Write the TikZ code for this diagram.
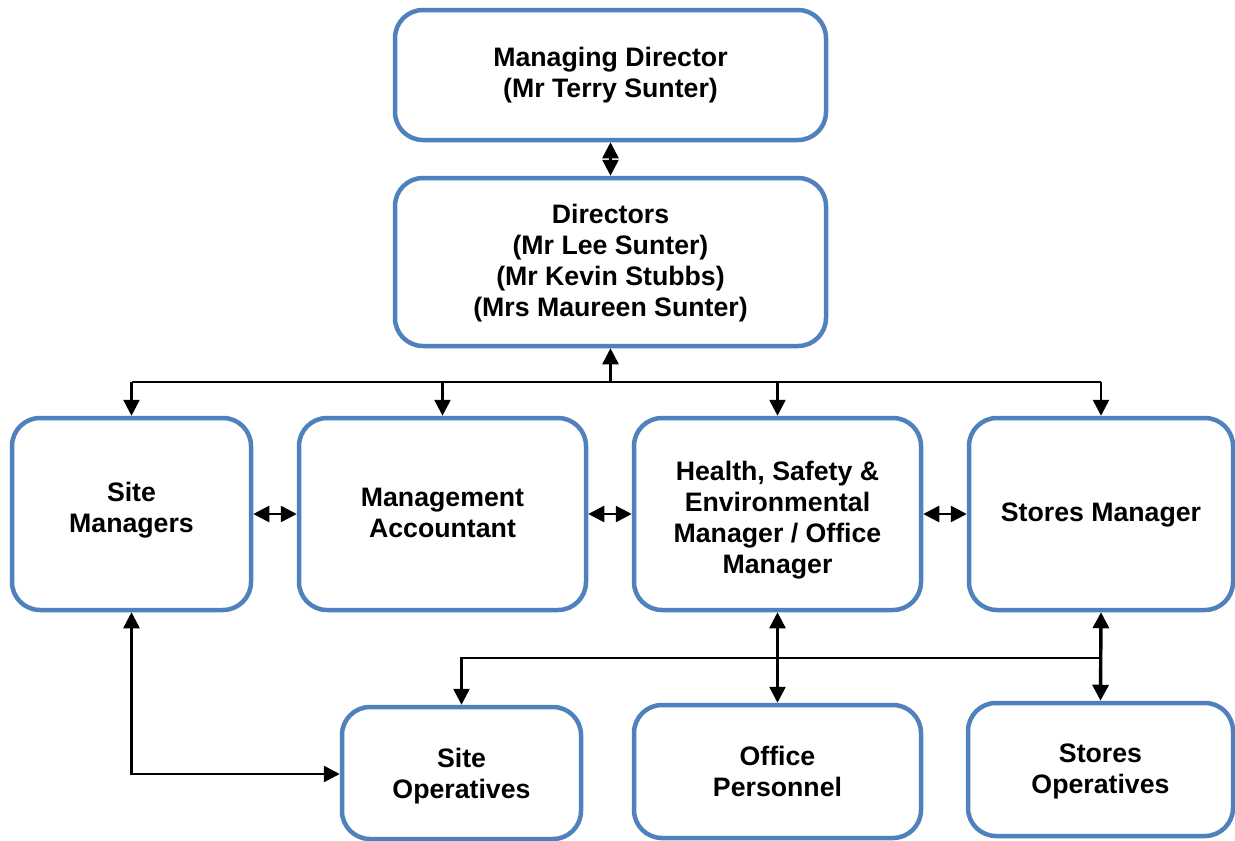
\documentclass[tikz,border=0pt]{standalone}
\usepackage{fontspec}
\setmainfont{Liberation Sans}
\usetikzlibrary{arrows.meta}
\definecolor{boxblue}{RGB}{79,129,189}
\begin{document}
\begin{tikzpicture}[x=1pt,y=-1pt,
  orgbox/.style={draw=boxblue, line width=4.5pt, rounded corners=28pt, fill=white,
    inner sep=0pt},
  boxtext/.style={inner sep=0pt, align=center, font=\fontsize{26.7}{31}\selectfont\bfseries},
  conn/.style={line width=2.6pt, black},
  tip/.tip={Triangle[length=16pt,width=16pt]},
  arr/.style={conn, -tip},
  darr/.style={conn, tip-tip}]
\useasboundingbox (0,0) rectangle (1235,841);

\node[orgbox, minimum width=431pt, minimum height=130pt] (md) at (610.5,75) {};
\node[boxtext] (mdt) at (610.5,75) {Managing Director\\(Mr Terry Sunter)};
\node[orgbox, minimum width=431pt, minimum height=168pt] (dir) at (610.5,262) {};
\node[boxtext] (dirt) at (610.5,263) {Directors\\(Mr Lee Sunter)\\(Mr Kevin Stubbs)\\(Mrs Maureen Sunter)};
\node[orgbox, minimum width=239pt, minimum height=192pt] (sm) at (131.5,514) {};
\node[boxtext] (smt) at (131.5,510) {Site\\Managers};
\node[orgbox, minimum width=287pt, minimum height=192pt] (ma) at (442.5,514) {};
\node[boxtext] (mat) at (442.5,513) {Management\\Accountant};
\node[orgbox, minimum width=287pt, minimum height=192pt] (hse) at (777.5,514) {};
\node[boxtext] (hset) at (777.5,520.5) {Health, Safety \&\\Environmental\\Manager / Office\\Manager};
\node[orgbox, minimum width=264pt, minimum height=192pt] (stm) at (1101,514) {};
\node[boxtext] (stmt) at (1101,515) {Stores Manager};
\node[orgbox, minimum width=239pt, minimum height=132pt] (so) at (461.5,773) {};
\node[boxtext] (sot) at (461.5,776.5) {Site\\Operatives};
\node[orgbox, minimum width=287pt, minimum height=133pt] (op) at (777.5,771.5) {};
\node[boxtext] (opt) at (777.5,771) {Office\\Personnel};
\node[orgbox, minimum width=265pt, minimum height=133pt] (sto) at (1100.5,769.5) {};
\node[boxtext] (stot) at (1100.5,771.5) {Stores\\Operatives};

% MD <-> Directors
\draw[darr] (md.south) -- (dir.north);

% Directors bus
\coordinate (bus) at (610.5,382);
\draw[arr] (bus) -- (dir.south);
\draw[conn] (sm.north |- bus) -- (stm.north |- bus);
\draw[arr] (sm.north |- bus) -- (sm.north);
\draw[arr] (ma.north |- bus) -- (ma.north);
\draw[arr] (hse.north |- bus) -- (hse.north);
\draw[arr] (stm.north |- bus) -- (stm.north);

% horizontal links between managers
\draw[darr] (sm.east) -- (ma.west);
\draw[darr] (ma.east) -- (hse.west);
\draw[darr] (hse.east) -- (stm.west);

% Site managers <-> Site operatives
\coordinate (smcorner) at (131.5,774);
\draw[darr] (sm.south) -- (smcorner) -- (so.west |- smcorner);

% HSE <-> Office personnel
\draw[darr] (hse.south) -- (op.north);
% Stores manager <-> Stores operatives
\draw[darr, line width=3.4pt] (stm.south) -- (sto.north);

% lower bus to site operatives
\coordinate (lbus) at (1101,658);
\draw[arr] (lbus) -- (so.north |- lbus) -- (so.north);
\end{tikzpicture}
\end{document}
